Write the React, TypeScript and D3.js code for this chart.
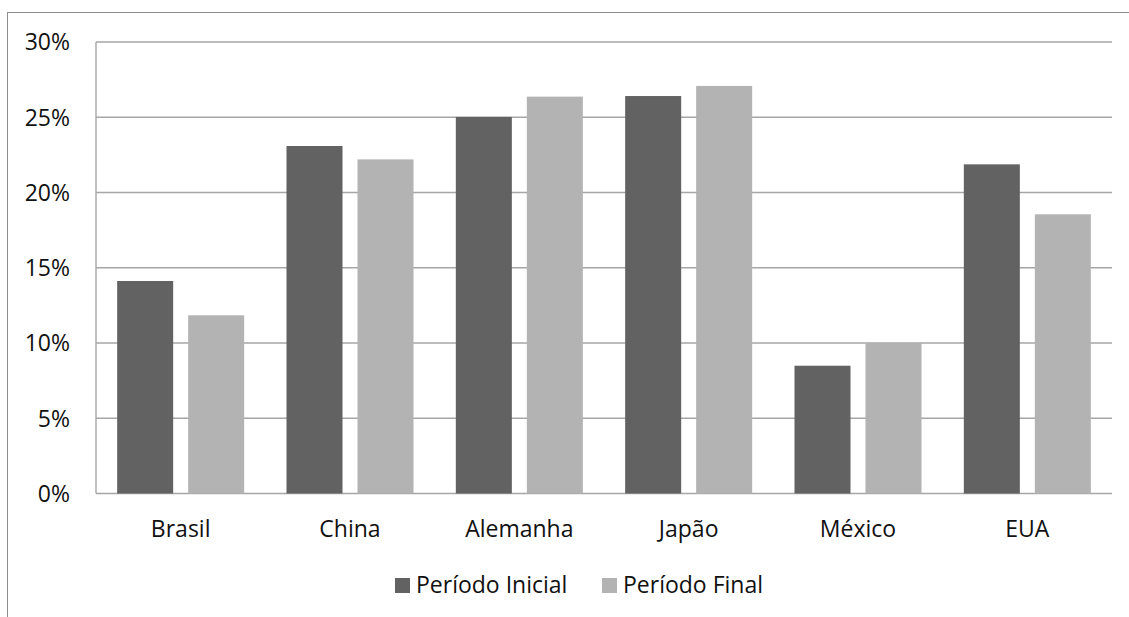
import React from "react";
import * as d3 from "d3";

// Share by country, initial vs. final period
const categories = ["Brasil", "China", "Alemanha", "Japão", "México", "EUA"];
const seriesNames = ["Período Inicial", "Período Final"];
const periodoInicial = [0.1412, 0.2309, 0.2502, 0.2641, 0.0849, 0.2187];
const periodoFinal = [0.1184, 0.2220, 0.2637, 0.2708, 0.1000, 0.1855];
const yTicks = [0, 0.05, 0.1, 0.15, 0.2, 0.25, 0.3];
const seriesColors = ["#626262", "#b3b3b3"];

const W = 1129;
const H = 617;
const plot = { left: 96, right: 1112, top: 42, bottom: 493.5 };
const FONT = "'Open Sans', 'Noto Sans', sans-serif";
const FS = 23;

export default function App() {
  const x0 = d3
    .scaleBand<string>()
    .domain(categories)
    .range([plot.left, plot.right])
    .padding(0);
  const x1 = d3
    .scaleBand<string>()
    .domain(seriesNames)
    .range([0, x0.bandwidth()])
    .paddingInner(0.211)
    .paddingOuter(0.298);
  const y = d3.scaleLinear().domain([0, 0.3]).range([plot.bottom, plot.top]);
  const fmt = d3.format(".0%");
  const values = [periodoInicial, periodoFinal];

  return (
    <svg
      width={W}
      height={H}
      style={{ position: "absolute", left: 0, top: 0, background: "#fff" }}
      fontFamily={FONT}
    >
      <rect x={0} y={0} width={W} height={H} fill="#fff" />
      {/* chart frame */}
      <rect
        x={7.5}
        y={12.5}
        width={W + 20}
        height={H + 20}
        fill="none"
        stroke="#8c8c8c"
        strokeWidth={1}
      />
      {/* gridlines */}
      {yTicks.map((t) => (
        <line
          key={t}
          x1={plot.left}
          x2={plot.right}
          y1={y(t)}
          y2={y(t)}
          stroke="#a6a6a6"
          strokeWidth={1.4}
        />
      ))}
      {/* value axis line */}
      <line
        x1={plot.left}
        x2={plot.left}
        y1={plot.top}
        y2={plot.bottom}
        stroke="#a6a6a6"
        strokeWidth={1.4}
      />
      {/* tick labels */}
      {yTicks.map((t) => (
        <text
          key={"l" + t}
          x={70}
          y={y(t)}
          dy="0.36em"
          textAnchor="end"
          fontSize={FS}
          fill="#111"
        >
          {fmt(t)}
        </text>
      ))}
      {/* bars */}
      {categories.map((c, i) => (
        <g key={c} transform={`translate(${x0(c)},0)`}>
          {seriesNames.map((s, j) => (
            <rect
              key={s}
              x={x1(s)}
              y={y(values[j][i])}
              width={x1.bandwidth()}
              height={y(0) - y(values[j][i])}
              fill={seriesColors[j]}
            />
          ))}
        </g>
      ))}
      {/* category labels */}
      {categories.map((c) => (
        <text
          key={"c" + c}
          x={(x0(c) as number) + x0.bandwidth() / 2}
          y={537}
          textAnchor="middle"
          fontSize={FS}
          fill="#111"
        >
          {c}
        </text>
      ))}
      {/* legend */}
      {seriesNames.map((s, j) => {
        const lx = [395, 602][j];
        return (
          <g key={"lg" + s}>
            <rect x={lx} y={578} width={15} height={15} fill={seriesColors[j]} />
            <text x={lx + 21} y={593} fontSize={FS} fill="#111">
              {s}
            </text>
          </g>
        );
      })}
    </svg>
  );
}
